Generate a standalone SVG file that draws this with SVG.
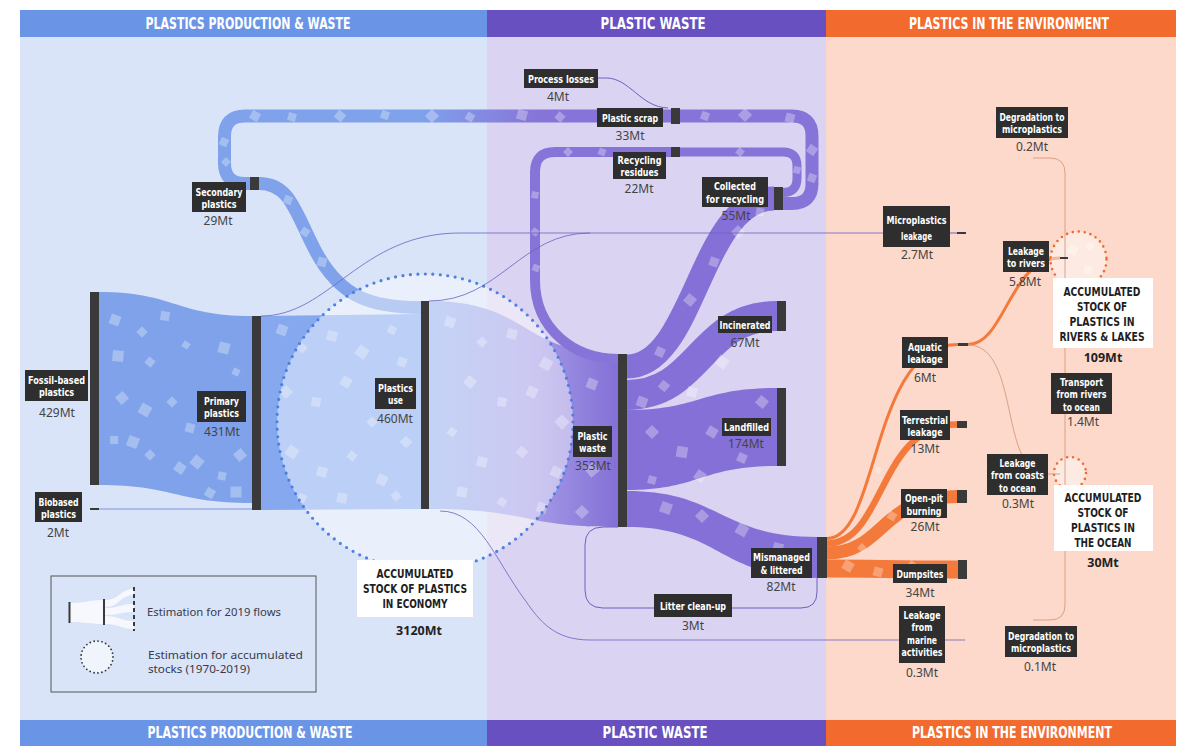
<svg xmlns="http://www.w3.org/2000/svg" xmlns:xlink="http://www.w3.org/1999/xlink" width="1200" height="753" viewBox="0 0 1200 753">
<style>
.lb{fill:#2e2e2e}
.bar{fill:#3a3a3a}
.lt{font-family:"Liberation Sans Narrow","DejaVu Sans Condensed","Liberation Sans",sans-serif;font-weight:bold;font-size:11px;fill:#fff;text-anchor:middle}
.st{font-family:"Liberation Sans Narrow","DejaVu Sans Condensed","Liberation Sans",sans-serif;font-weight:bold;font-size:13px;fill:#1e1e1e;text-anchor:middle}
.hd{font-family:"Liberation Sans Narrow","DejaVu Sans Condensed","Liberation Sans",sans-serif;font-weight:bold;font-size:15px;fill:#fff;text-anchor:middle}
.v{font-family:"Noto Sans","Liberation Sans",sans-serif;font-size:12px;fill:#444;text-anchor:middle}
.vb{font-family:"Noto Sans","Liberation Sans",sans-serif;font-size:12.5px;font-weight:bold;fill:#222;text-anchor:middle}
.lg{font-family:"Noto Sans","Liberation Sans",sans-serif;font-size:11px;fill:#3a3a4a}
.thin{fill:none;stroke:#6c62c0;stroke-width:1}
.thinO{fill:none;stroke:#d9a088;stroke-width:1}
.band{fill:none;stroke-linecap:butt}
</style>
<defs>
<rect id="q" x="-5" y="-5" width="10" height="10" fill="#fff" opacity="0.3"/>
<linearGradient id="gUse" gradientUnits="userSpaceOnUse" x1="429" y1="0" x2="618" y2="0">
<stop offset="0" stop-color="#93b0ef"/>
<stop offset="0.55" stop-color="#a39ae6"/>
<stop offset="1" stop-color="#8470d6"/>
</linearGradient>
<linearGradient id="gScrap" gradientUnits="userSpaceOnUse" x1="420" y1="0" x2="540" y2="0">
<stop offset="0" stop-color="#7fa2ea"/>
<stop offset="1" stop-color="#8774d8"/>
</linearGradient>
</defs>

<!-- panels -->
<g id="panels">
<rect x="20" y="10" width="467" height="736" fill="#d9e4f8"/>
<rect x="487" y="10" width="339" height="736" fill="#dad3f1"/>
<rect x="826" y="10" width="350" height="736" fill="#fcd9ca"/>
<rect x="20" y="10" width="467" height="27" fill="#6a95e6"/>
<rect x="487" y="10" width="339" height="27" fill="#6850c0"/>
<rect x="826" y="10" width="350" height="27" fill="#f26a2e"/>
<rect x="20" y="720" width="467" height="26" fill="#6a95e6"/>
<rect x="487" y="720" width="339" height="26" fill="#6850c0"/>
<rect x="826" y="720" width="350" height="26" fill="#f26a2e"/>
<text class="hd" x="248" y="29" textLength="205" lengthAdjust="spacingAndGlyphs">PLASTICS PRODUCTION &amp; WASTE</text>
<text class="hd" x="653" y="29" textLength="105" lengthAdjust="spacingAndGlyphs">PLASTIC WASTE</text>
<text class="hd" x="1009" y="29" textLength="200" lengthAdjust="spacingAndGlyphs">PLASTICS IN THE ENVIRONMENT</text>
<text class="hd" x="250" y="738" textLength="205" lengthAdjust="spacingAndGlyphs">PLASTICS PRODUCTION &amp; WASTE</text>
<text class="hd" x="655" y="738" textLength="105" lengthAdjust="spacingAndGlyphs">PLASTIC WASTE</text>
<text class="hd" x="1012" y="738" textLength="200" lengthAdjust="spacingAndGlyphs">PLASTICS IN THE ENVIRONMENT</text>
</g>

<!-- connectors -->
<g id="connectors">
<path d="M99 292 C175 292 175 316 252 316 L252 503 C175 503 175 485 99 485 Z" fill="#7fa2ea"/>
<path d="M99 509 L252 509" stroke="#7f95d8" stroke-width="1.2" fill="none"/>
<path d="M261 316 L421 314 L421 509 L261 510 Z" fill="#85a8ee"/>
<path d="M429 301 C530 301 520 354 618 354 L618 527 C520 527 530 509 429 509 Z" fill="url(#gUse)"/>
<path class="band" d="M259 183.5 C290 183.5 295 212 315 250 C340 298 372 307.5 421 307.5" stroke="#7fa2ea" stroke-width="13"/>
<path class="band" d="M671 116 L245 116 Q224.5 116 224.5 136.5 L224.5 163 Q224.5 183.5 245 183.5 L250 183.5" stroke="url(#gScrap)" stroke-width="13"/>
<path class="band" d="M783 203.5 L792 203.5 Q812 203.5 812 183.5 L812 136 Q812 116 792 116 L680 116" stroke="#8774d8" stroke-width="13"/>
<path class="band" d="M783 192.5 Q797 192.5 797 178 L797 166 Q797 152 783 152 L680 152" stroke="#8774d8" stroke-width="9"/>
<path class="band" d="M671 152 L555 152 Q535 152 535 172 L535 280 C535 330 575 359 618 359" stroke="#8774d8" stroke-width="10"/>
<path class="band" d="M627 366.5 C695 366.5 700 198.5 774 198.5" stroke="#8470d6" stroke-width="24"/>
<path class="band" d="M627 395 C700 395 700 316 777 316" stroke="#8470d6" stroke-width="30"/>
<path d="M627 410 C700 410 700 388 777 388 L777 466 C700 466 700 490 627 490 Z" fill="#8470d6"/>
<path d="M627 491 C720 491 720 537 817 537 L817 578 C720 578 720 527 627 527 Z" fill="#8470d6"/>
<path class="band" d="M827 538.5 C880 538.5 870 344.5 958 344.5" stroke="#f47a3c" stroke-width="3"/>
<path class="band" d="M827 543.5 C885 543.5 878 424.5 957 424.5" stroke="#f47a3c" stroke-width="6.5"/>
<path class="band" d="M827 553 C885 553 880 496.5 957 496.5" stroke="#f47a3c" stroke-width="13"/>
<path class="band" d="M827 568.5 C880 568.5 890 569.5 958 569.5" stroke="#f47a3c" stroke-width="18"/>
<path class="band" d="M968 344.5 C1005 344.5 1010 258 1060 258" stroke="#f47a3c" stroke-width="3"/>
</g>

<!-- texture squares -->
<g id="texture">
<use href="#q" transform="translate(115 320) rotate(20)"/>
<use href="#q" transform="translate(142 332) rotate(45) scale(0.8)"/>
<use href="#q" transform="translate(165 316) rotate(10) scale(0.9)"/>
<use href="#q" transform="translate(186 345) rotate(35) scale(0.7)"/>
<use href="#q" transform="translate(224 348) rotate(15) scale(1.1)"/>
<use href="#q" transform="translate(118 356) rotate(5) scale(1.1)"/>
<use href="#q" transform="translate(150 362) rotate(40) scale(0.8)"/>
<use href="#q" transform="translate(236 372) rotate(25) scale(0.7)"/>
<use href="#q" transform="translate(122 398) rotate(50)"/>
<use href="#q" transform="translate(145 410) rotate(30) scale(1.1)"/>
<use href="#q" transform="translate(172 402) rotate(45) scale(0.8)"/>
<use href="#q" transform="translate(190 428) rotate(15) scale(0.9)"/>
<use href="#q" transform="translate(205 412) rotate(60) scale(0.7)"/>
<use href="#q" transform="translate(133 442) rotate(20) scale(1.1)"/>
<use href="#q" transform="translate(150 455) rotate(45) scale(0.8)"/>
<use href="#q" transform="translate(180 468) rotate(35)"/>
<use href="#q" transform="translate(197 462) rotate(40) scale(1.1)"/>
<use href="#q" transform="translate(222 476) rotate(10) scale(0.8)"/>
<use href="#q" transform="translate(240 455) rotate(50)"/>
<use href="#q" transform="translate(114 440) rotate(0) scale(0.8)"/>
<use href="#q" transform="translate(210 493) rotate(30) scale(0.9)"/>
<use href="#q" transform="translate(236 492) rotate(0) scale(1.1)"/>
<use href="#q" transform="translate(282 330) rotate(20)"/>
<use href="#q" transform="translate(302 348) rotate(40) scale(0.8)"/>
<use href="#q" transform="translate(332 336) rotate(15)"/>
<use href="#q" transform="translate(362 352) rotate(35) scale(1.1)"/>
<use href="#q" transform="translate(392 330) rotate(25) scale(0.8)"/>
<use href="#q" transform="translate(286 392) rotate(45)"/>
<use href="#q" transform="translate(316 402) rotate(10) scale(0.9)"/>
<use href="#q" transform="translate(346 382) rotate(30)"/>
<use href="#q" transform="translate(372 422) rotate(50) scale(0.8)"/>
<use href="#q" transform="translate(402 362) rotate(20) scale(0.9)"/>
<use href="#q" transform="translate(292 452) rotate(35) scale(1.1)"/>
<use href="#q" transform="translate(322 472) rotate(15)"/>
<use href="#q" transform="translate(352 456) rotate(40) scale(0.8)"/>
<use href="#q" transform="translate(382 480) rotate(25)"/>
<use href="#q" transform="translate(406 442) rotate(45) scale(0.9)"/>
<use href="#q" transform="translate(302 498) rotate(30) scale(0.8)"/>
<use href="#q" transform="translate(342 498) rotate(10)"/>
<use href="#q" transform="translate(396 496) rotate(50) scale(0.8)"/>
<use href="#q" transform="translate(450 322) rotate(20)"/>
<use href="#q" transform="translate(482 342) rotate(45) scale(0.8)"/>
<use href="#q" transform="translate(512 334) rotate(15)"/>
<use href="#q" transform="translate(546 364) rotate(30) scale(1.1)"/>
<use href="#q" transform="translate(470 382) rotate(40)"/>
<use href="#q" transform="translate(502 402) rotate(10) scale(0.9)"/>
<use href="#q" transform="translate(532 392) rotate(25)"/>
<use href="#q" transform="translate(562 422) rotate(45) scale(1.1)"/>
<use href="#q" transform="translate(592 384) rotate(20)"/>
<use href="#q" transform="translate(452 432) rotate(35) scale(0.8)"/>
<use href="#q" transform="translate(482 462) rotate(15)"/>
<use href="#q" transform="translate(522 452) rotate(40) scale(0.9)"/>
<use href="#q" transform="translate(556 472) rotate(25)"/>
<use href="#q" transform="translate(592 470) rotate(50) scale(1.1)"/>
<use href="#q" transform="translate(462 492) rotate(10)"/>
<use href="#q" transform="translate(502 502) rotate(35) scale(0.8)"/>
<use href="#q" transform="translate(542 508) rotate(20)"/>
<use href="#q" transform="translate(582 512) rotate(45)"/>
<use href="#q" transform="translate(602 442) rotate(30) scale(0.9)"/>
<use href="#q" transform="translate(642 402) rotate(20)"/>
<use href="#q" transform="translate(664 386) rotate(40) scale(0.9)"/>
<use href="#q" transform="translate(692 392) rotate(15)"/>
<use href="#q" transform="translate(722 362) rotate(35) scale(1.1)"/>
<use href="#q" transform="translate(748 324) rotate(20) scale(0.8)"/>
<use href="#q" transform="translate(652 432) rotate(45)"/>
<use href="#q" transform="translate(682 452) rotate(10) scale(1.1)"/>
<use href="#q" transform="translate(712 432) rotate(30)"/>
<use href="#q" transform="translate(742 458) rotate(25) scale(0.9)"/>
<use href="#q" transform="translate(762 402) rotate(40)"/>
<use href="#q" transform="translate(652 480) rotate(15) scale(0.8)"/>
<use href="#q" transform="translate(700 476) rotate(35)"/>
<use href="#q" transform="translate(666 508) rotate(20) scale(1.1)"/>
<use href="#q" transform="translate(702 516) rotate(45)"/>
<use href="#q" transform="translate(742 530) rotate(30) scale(1.1)"/>
<use href="#q" transform="translate(778 548) rotate(15)"/>
<use href="#q" transform="translate(660 352) rotate(25) scale(0.9)"/>
<use href="#q" transform="translate(690 300) rotate(40)"/>
<use href="#q" transform="translate(714 262) rotate(20) scale(0.9)"/>
<use href="#q" transform="translate(738 232) rotate(45)"/>
<use href="#q" transform="translate(760 212) rotate(10) scale(0.8)"/>
<use href="#q" transform="translate(255 116) rotate(30) scale(0.9)"/>
<use href="#q" transform="translate(292 117) rotate(15) scale(0.8)"/>
<use href="#q" transform="translate(340 116) rotate(40) scale(0.9)"/>
<use href="#q" transform="translate(385 115) rotate(20) scale(0.8)"/>
<use href="#q" transform="translate(432 116) rotate(45)"/>
<use href="#q" transform="translate(470 117) rotate(30) scale(0.8)"/>
<use href="#q" transform="translate(522 115) rotate(15)"/>
<use href="#q" transform="translate(560 117) rotate(40) scale(0.8)"/>
<use href="#q" transform="translate(705 116) rotate(20) scale(0.8)"/>
<use href="#q" transform="translate(745 115) rotate(45)"/>
<use href="#q" transform="translate(790 118) rotate(15) scale(0.9)"/>
<use href="#q" transform="translate(812 150) rotate(35) scale(0.9)"/>
<use href="#q" transform="translate(812 178) rotate(20) scale(0.8)"/>
<use href="#q" transform="translate(224 142) rotate(25) scale(0.8)"/>
<use href="#q" transform="translate(226 162) rotate(45) scale(0.7)"/>
<use href="#q" transform="translate(288 200) rotate(20) scale(0.8)"/>
<use href="#q" transform="translate(305 232) rotate(35) scale(0.8)"/>
<use href="#q" transform="translate(322 262) rotate(15) scale(0.9)"/>
<use href="#q" transform="translate(602 152) rotate(20) scale(0.7)"/>
<use href="#q" transform="translate(568 152) rotate(45) scale(0.7)"/>
<use href="#q" transform="translate(535 195) rotate(10) scale(0.7)"/>
<use href="#q" transform="translate(535 232) rotate(35) scale(0.7)"/>
<use href="#q" transform="translate(536 268) rotate(20) scale(0.7)"/>
<use href="#q" transform="translate(740 152) rotate(40) scale(0.7)"/>
<use href="#q" transform="translate(797 170) rotate(15) scale(0.7)"/>
<use href="#q" transform="translate(848 566) rotate(30)"/>
<use href="#q" transform="translate(878 572) rotate(15) scale(0.9)"/>
<use href="#q" transform="translate(912 567) rotate(40)"/>
<use href="#q" transform="translate(942 570) rotate(20) scale(0.8)"/>
<use href="#q" transform="translate(862 548) rotate(45) scale(0.7)"/>
<use href="#q" transform="translate(892 516) rotate(30) scale(0.8)"/>
<use href="#q" transform="translate(878 470) rotate(20) scale(0.6)"/>
<use href="#q" transform="translate(1073 250) rotate(30) scale(0.9)"/>
<use href="#q" transform="translate(1088 270) rotate(15) scale(0.8)"/>
<use href="#q" transform="translate(1090 246) rotate(45) scale(0.7)"/>
</g>

<!-- economy stock overlay -->
<g id="stock-economy-circle">
<circle cx="425" cy="422" r="148" fill="#fff" fill-opacity="0.45"/>
<circle cx="425" cy="422" r="148" fill="none" stroke="#4f7fe0" stroke-width="3.2" stroke-dasharray="0 7.5" stroke-linecap="round"/>
</g>
<g id="stock-circles-env">
<circle cx="1078.5" cy="259.5" r="28" fill="#fff" fill-opacity="0.45" stroke="#f26a2e" stroke-width="2.6" stroke-dasharray="0 6" stroke-linecap="round"/>
<circle cx="1070" cy="473" r="16" fill="#fff" fill-opacity="0.45" stroke="#f26a2e" stroke-width="2.6" stroke-dasharray="0 6" stroke-linecap="round"/>
</g>

<!-- thin connectors -->
<g id="thin-connectors">
<path class="thin" d="M261 316 C330 316 360 233 460 233 L883 233" stroke-opacity="0.8"/>
<path class="thin" d="M429 301 C500 301 520 233 590 233" stroke-opacity="0.8"/>
<path class="thin" d="M950 233 L957 233"/>
<path class="thin" d="M440 511 C480 511 495 560 525 600 C540 622 555 640 590 640 L965 640" stroke-opacity="0.8"/>
<path class="thin" d="M817 578 L817 592 Q817 608 801 608 L603 608 Q585 608 585 590 L585 545 Q585 527 603 527 L618 527"/>
<path class="thin" d="M598 78 L606 78 C630 78 640 107 668 108"/>
<path class="thinO" d="M1033 158 L1050 158 Q1065 158 1065 173 L1065 605 Q1065 620 1050 620 L1033 620"/>
<path class="thinO" d="M968 345 C1008 345 1005 420 1022 455" stroke="#e8865a"/>
<path class="thinO" d="M1048 474 L1060 474" stroke="#e8865a"/>
</g>

<!-- nodes -->
<g id="n-fossil"><rect class="bar" x="90" y="292" width="9" height="193"/><rect class="lb" x="25" y="370" width="63" height="31"/><text class="lt" x="56.5" y="383.5" textLength="57" lengthAdjust="spacingAndGlyphs">Fossil-based</text><text class="lt" x="56.5" y="396" textLength="35" lengthAdjust="spacingAndGlyphs">plastics</text><text class="v" x="57" y="417">429Mt</text></g>
<g id="n-biobased"><rect class="bar" x="90" y="508" width="9" height="2"/><rect class="lb" x="35" y="492" width="47" height="30"/><text class="lt" x="58.5" y="505.5" textLength="40" lengthAdjust="spacingAndGlyphs">Biobased</text><text class="lt" x="58.5" y="518" textLength="35" lengthAdjust="spacingAndGlyphs">plastics</text><text class="v" x="58" y="537">2Mt</text></g>
<g id="n-primary"><rect class="bar" x="252" y="316" width="9" height="194"/><rect class="lb" x="197" y="391" width="49" height="31"/><text class="lt" x="221.5" y="404.5" textLength="35" lengthAdjust="spacingAndGlyphs">Primary</text><text class="lt" x="221.5" y="417" textLength="35" lengthAdjust="spacingAndGlyphs">plastics</text><text class="v" x="222" y="436">431Mt</text></g>
<g id="n-secondary"><rect class="bar" x="250" y="177" width="9" height="13"/><rect class="lb" x="192" y="182" width="54" height="30"/><text class="lt" x="219" y="195.5" textLength="47" lengthAdjust="spacingAndGlyphs">Secondary</text><text class="lt" x="219" y="208" textLength="35" lengthAdjust="spacingAndGlyphs">plastics</text><text class="v" x="218" y="225">29Mt</text></g>
<g id="n-use"><rect class="bar" x="421" y="301" width="8" height="208"/><rect class="lb" x="375" y="378" width="41" height="31"/><text class="lt" x="395.5" y="391.5" textLength="35" lengthAdjust="spacingAndGlyphs">Plastics</text><text class="lt" x="395.5" y="404" textLength="15" lengthAdjust="spacingAndGlyphs">use</text><text class="v" x="395" y="423">460Mt</text></g>
<g id="n-waste"><rect class="bar" x="618" y="354" width="9" height="173"/><rect class="lb" x="573" y="426" width="39" height="31"/><text class="lt" x="592.5" y="439.5" textLength="30" lengthAdjust="spacingAndGlyphs">Plastic</text><text class="lt" x="592.5" y="452" textLength="27" lengthAdjust="spacingAndGlyphs">waste</text><text class="v" x="593" y="470">353Mt</text></g>
<g id="n-process-losses"><rect class="lb" x="524" y="69" width="74" height="19"/><text class="lt" x="561" y="82.5" textLength="66" lengthAdjust="spacingAndGlyphs">Process losses</text><text class="v" x="558" y="101">4Mt</text></g>
<g id="n-scrap"><rect class="bar" x="671" y="108" width="9" height="16"/><rect class="lb" x="597" y="108" width="66" height="19"/><text class="lt" x="630" y="121.5" textLength="56" lengthAdjust="spacingAndGlyphs">Plastic scrap</text><text class="v" x="630" y="140">33Mt</text></g>
<g id="n-residues"><rect class="bar" x="671" y="147" width="9" height="10"/><rect class="lb" x="613" y="152" width="53" height="27"/><text class="lt" x="639.5" y="164" textLength="44" lengthAdjust="spacingAndGlyphs">Recycling</text><text class="lt" x="639.5" y="176" textLength="38" lengthAdjust="spacingAndGlyphs">residues</text><text class="v" x="639" y="193">22Mt</text></g>
<g id="n-collected"><rect class="bar" x="774" y="187" width="9" height="23"/><rect class="lb" x="702" y="177" width="66" height="30"/><text class="lt" x="735" y="190" textLength="42" lengthAdjust="spacingAndGlyphs">Collected</text><text class="lt" x="735" y="202.5" textLength="58" lengthAdjust="spacingAndGlyphs">for recycling</text><text class="v" x="736" y="220">55Mt</text></g>
<g id="n-incinerated"><rect class="bar" x="777" y="301" width="9" height="30"/><rect class="lb" x="718" y="316" width="54" height="17"/><text class="lt" x="745" y="328.5" textLength="51" lengthAdjust="spacingAndGlyphs">Incinerated</text><text class="v" x="745" y="347">67Mt</text></g>
<g id="n-landfilled"><rect class="bar" x="777" y="388" width="9" height="78"/><rect class="lb" x="722" y="418" width="49" height="18"/><text class="lt" x="746.5" y="431" textLength="45" lengthAdjust="spacingAndGlyphs">Landfilled</text><text class="v" x="746" y="448">174Mt</text></g>
<g id="n-mismanaged"><rect class="bar" x="817" y="537" width="10" height="41"/><rect class="lb" x="751" y="548" width="61" height="30"/><text class="lt" x="781.5" y="561" textLength="57" lengthAdjust="spacingAndGlyphs">Mismanaged</text><text class="lt" x="781.5" y="573.5" textLength="42" lengthAdjust="spacingAndGlyphs">&amp; littered</text><text class="v" x="781" y="591">82Mt</text></g>
<g id="n-litter"><rect class="lb" x="654" y="594" width="78" height="23"/><text class="lt" x="693" y="609.5" textLength="66" lengthAdjust="spacingAndGlyphs">Litter clean-up</text><text class="v" x="693" y="630">3Mt</text></g>
<g id="n-microplastics"><rect class="bar" x="957" y="232" width="9" height="2"/><rect class="lb" x="883" y="206" width="67" height="41"/><text class="lt" x="916.5" y="223.5" textLength="60" lengthAdjust="spacingAndGlyphs">Microplastics</text><text class="lt" x="916.5" y="240" textLength="31" lengthAdjust="spacingAndGlyphs">leakage</text><text class="v" x="917" y="259">2.7Mt</text></g>
<g id="n-degradation-top"><rect class="lb" x="996" y="107" width="72" height="31"/><text class="lt" x="1032" y="120.5" textLength="65" lengthAdjust="spacingAndGlyphs">Degradation to</text><text class="lt" x="1032" y="133" textLength="60" lengthAdjust="spacingAndGlyphs">microplastics</text><text class="v" x="1032" y="151">0.2Mt</text></g>
<g id="n-rivers"><rect class="bar" x="1060" y="257" width="8" height="2"/><rect class="lb" x="1003" y="241" width="46" height="31"/><text class="lt" x="1026" y="254.5" textLength="36" lengthAdjust="spacingAndGlyphs">Leakage</text><text class="lt" x="1026" y="267" textLength="38" lengthAdjust="spacingAndGlyphs">to rivers</text><text class="v" x="1025" y="286">5.8Mt</text></g>
<g id="n-aquatic"><rect class="bar" x="958" y="343" width="10" height="3"/><rect class="lb" x="902" y="337" width="46" height="31"/><text class="lt" x="925" y="350.5" textLength="34" lengthAdjust="spacingAndGlyphs">Aquatic</text><text class="lt" x="925" y="363" textLength="35" lengthAdjust="spacingAndGlyphs">leakage</text><text class="v" x="925" y="382">6Mt</text></g>
<g id="n-terrestrial"><rect class="bar" x="957" y="421" width="10" height="7"/><rect class="lb" x="900" y="410" width="50" height="30"/><text class="lt" x="925" y="423.5" textLength="46" lengthAdjust="spacingAndGlyphs">Terrestrial</text><text class="lt" x="925" y="436" textLength="35" lengthAdjust="spacingAndGlyphs">leakage</text><text class="v" x="925" y="453">13Mt</text></g>
<g id="n-openpit"><rect class="bar" x="957" y="490" width="10" height="13"/><rect class="lb" x="901" y="489" width="46" height="29"/><text class="lt" x="924" y="502" textLength="38" lengthAdjust="spacingAndGlyphs">Open-pit</text><text class="lt" x="924" y="514.5" textLength="35" lengthAdjust="spacingAndGlyphs">burning</text><text class="v" x="925" y="531">26Mt</text></g>
<g id="n-coasts"><rect class="lb" x="987" y="454" width="61" height="41"/><text class="lt" x="1017.5" y="466.5" textLength="36" lengthAdjust="spacingAndGlyphs">Leakage</text><text class="lt" x="1017.5" y="479" textLength="53" lengthAdjust="spacingAndGlyphs">from coasts</text><text class="lt" x="1017.5" y="491.5" textLength="37" lengthAdjust="spacingAndGlyphs">to ocean</text><text class="v" x="1018" y="508">0.3Mt</text></g>
<g id="n-transport"><rect class="lb" x="1051" y="373" width="61" height="41"/><text class="lt" x="1081.5" y="385.5" textLength="43" lengthAdjust="spacingAndGlyphs">Transport</text><text class="lt" x="1081.5" y="398" textLength="50" lengthAdjust="spacingAndGlyphs">from rivers</text><text class="lt" x="1081.5" y="410.5" textLength="37" lengthAdjust="spacingAndGlyphs">to ocean</text><text class="v" x="1083" y="426">1.4Mt</text></g>
<g id="n-dumpsites"><rect class="bar" x="958" y="560" width="9" height="19"/><rect class="lb" x="893" y="564" width="54" height="19"/><text class="lt" x="920" y="577.5" textLength="47" lengthAdjust="spacingAndGlyphs">Dumpsites</text><text class="v" x="920" y="597">34Mt</text></g>
<g id="n-marine"><rect class="lb" x="899" y="606" width="46" height="57"/><text class="lt" x="922" y="618.5" textLength="37" lengthAdjust="spacingAndGlyphs">Leakage</text><text class="lt" x="922" y="631" textLength="21" lengthAdjust="spacingAndGlyphs">from</text><text class="lt" x="922" y="643.5" textLength="30" lengthAdjust="spacingAndGlyphs">marine</text><text class="lt" x="922" y="656" textLength="41" lengthAdjust="spacingAndGlyphs">activities</text><text class="v" x="922" y="677">0.3Mt</text></g>
<g id="n-degradation-bottom"><rect class="lb" x="1005" y="626" width="72" height="31"/><text class="lt" x="1041" y="639.5" textLength="66" lengthAdjust="spacingAndGlyphs">Degradation to</text><text class="lt" x="1041" y="652" textLength="60" lengthAdjust="spacingAndGlyphs">microplastics</text><text class="v" x="1040" y="671">0.1Mt</text></g>

<g id="n-stock-economy"><rect x="357" y="560" width="116" height="57" fill="#fff"/><text class="st" x="415" y="578" textLength="77" lengthAdjust="spacingAndGlyphs">ACCUMULATED</text><text class="st" x="415" y="593" textLength="104" lengthAdjust="spacingAndGlyphs">STOCK OF PLASTICS</text><text class="st" x="415" y="608" textLength="65" lengthAdjust="spacingAndGlyphs">IN ECONOMY</text><text class="vb" x="419" y="635">3120Mt</text></g>
<g id="n-stock-rivers"><rect x="1053" y="278" width="100" height="70" fill="#fff"/><text class="st" x="1102" y="295.5" textLength="77" lengthAdjust="spacingAndGlyphs">ACCUMULATED</text><text class="st" x="1102" y="310.5" textLength="50" lengthAdjust="spacingAndGlyphs">STOCK OF</text><text class="st" x="1102" y="325.5" textLength="65" lengthAdjust="spacingAndGlyphs">PLASTICS IN</text><text class="st" x="1102" y="340.5" textLength="85" lengthAdjust="spacingAndGlyphs">RIVERS &amp; LAKES</text><text class="vb" x="1103" y="362">109Mt</text></g>
<g id="n-stock-ocean"><rect x="1054" y="485" width="99" height="66" fill="#fff"/><text class="st" x="1103" y="502" textLength="77" lengthAdjust="spacingAndGlyphs">ACCUMULATED</text><text class="st" x="1103" y="517" textLength="51" lengthAdjust="spacingAndGlyphs">STOCK OF</text><text class="st" x="1103" y="532" textLength="64" lengthAdjust="spacingAndGlyphs">PLASTICS IN</text><text class="st" x="1103" y="547" textLength="57" lengthAdjust="spacingAndGlyphs">THE OCEAN</text><text class="vb" x="1103" y="567">30Mt</text></g>

<!-- legend -->
<g id="legend">
<rect x="51" y="576" width="265" height="116" fill="none" stroke="#555" stroke-width="1"/>
<path d="M70 603 C87 603 87 600 104 600 L104 624 C87 624 87 622 70 622 Z" fill="#fff" fill-opacity="0.75"/>
<path d="M105 600 C120 600 120 589 134 589 L134 595 C120 595 120 607 105 607 Z" fill="#fff" fill-opacity="0.75"/>
<path d="M105 608 C120 608 120 604 134 604 L134 612 C120 612 120 615 105 615 Z" fill="#fff" fill-opacity="0.75"/>
<path d="M105 616 C120 616 120 621 134 621 L134 629 C120 629 120 624 105 624 Z" fill="#fff" fill-opacity="0.75"/>
<rect x="68.5" y="602" width="2" height="21" fill="#3a3a3a"/>
<rect x="103" y="599" width="2" height="26" fill="#3a3a3a"/>
<path d="M134 587 L134 631" stroke="#3a3a3a" stroke-width="2" stroke-dasharray="4 3"/>
<text class="lg" x="147" y="616" textLength="134" lengthAdjust="spacingAndGlyphs">Estimation for 2019 flows</text>
<circle cx="97" cy="657" r="16" fill="#fff" fill-opacity="0.6" stroke="#333" stroke-width="1.8" stroke-dasharray="0 4" stroke-linecap="round"/>
<text class="lg" x="148" y="659" textLength="155" lengthAdjust="spacingAndGlyphs">Estimation for accumulated</text>
<text class="lg" x="148" y="673" textLength="102" lengthAdjust="spacingAndGlyphs">stocks (1970-2019)</text>
</g>
</svg>
